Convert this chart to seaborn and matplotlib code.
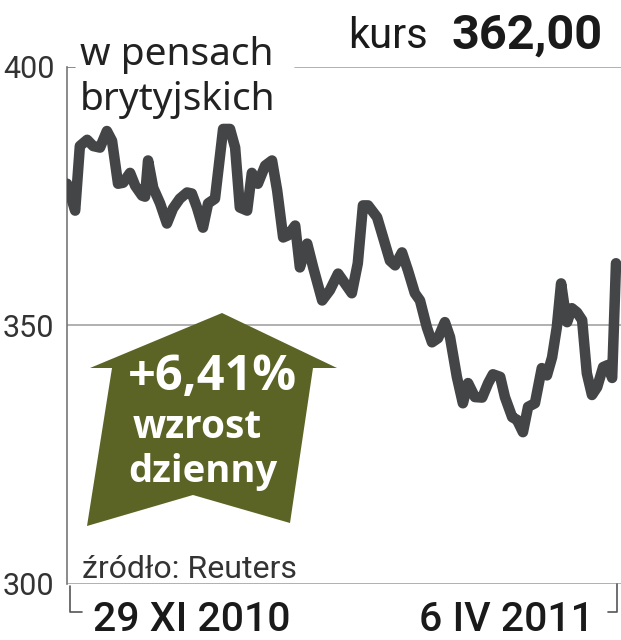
import numpy as np
import pandas as pd
import seaborn as sns
import matplotlib.pyplot as plt
from matplotlib.patches import Polygon
from matplotlib.lines import Line2D

# calendar days since 29 XI 2010 and closing price in pence
days = [0, 1.9, 3.0, 4.7, 6.1, 7.7, 9.3, 10.5, 11.9, 13.1, 14.7, 15.9, 17.5, 18.2,
        18.9, 20.1, 21.7, 23.3, 24.7, 26.3, 28.0, 29.1, 30.3, 31.7, 32.9, 34.5,
        36.4, 38.0, 39.2, 40.3, 42.0, 43.1, 44.5, 46.2, 47.8, 49.0, 50.4, 51.5,
        53.2, 54.3, 56.0, 57.4, 59.5, 61.3, 63.2, 64.8, 66.4, 67.8, 69.0, 70.2,
        72.3, 73.7, 75.3, 76.5, 78.1, 79.5, 81.1, 82.3, 83.9, 85.1, 86.5, 88.1,
        89.3, 90.9, 92.3, 93.5, 95.1, 96.8, 98.2, 99.3, 101.0, 102.1, 103.8,
        104.9, 106.3, 107.5, 109.1, 110.7, 111.9, 113.1, 114.2, 115.2, 116.1,
        116.6, 117.7, 118.9, 120.1, 121.2, 122.4, 123.6, 125.0, 126.1, 127.1, 128.0]
price = [377.4, 372.2, 384.7, 385.9, 384.7, 384.4, 387.6, 385.7, 377.4, 377.6,
         379.5, 377.0, 375.1, 374.9, 381.9, 376.6, 373.6, 369.7, 372.6, 374.5,
         375.7, 375.5, 372.8, 368.9, 373.6, 374.5, 388.0, 388.0, 384.4, 372.8,
         372.2, 379.5, 377.4, 380.9, 381.9, 376.1, 367.0, 367.4, 369.3, 361.2,
         365.8, 361.2, 354.8, 356.8, 360.0, 358.1, 356.2, 362.0, 373.2, 373.2,
         370.9, 367.0, 362.5, 361.6, 364.1, 360.6, 356.2, 354.8, 349.6, 346.7,
         347.5, 350.6, 347.7, 340.0, 334.9, 338.8, 336.1, 336.0, 338.8, 340.5,
         340.0, 336.1, 332.2, 331.7, 329.3, 334.2, 334.9, 341.7, 340.3, 343.8,
         349.6, 358.1, 352.9, 350.6, 353.3, 352.5, 351.0, 340.7, 336.5, 338.0,
         341.9, 342.3, 339.8, 362.0]
y_ticks = [300, 350, 400]
start_label = "29 XI 2010"
end_label = "6 IV 2011"
last_price = "362,00"
daily_change = "+6,41%"

df = pd.DataFrame({"day": days, "price": price})

sns.set_theme(style="white")
plt.rcParams["font.family"] = ["Roboto", "DejaVu Sans"]

W, H = 621, 640
fig = plt.figure(figsize=(W / 100, H / 100), dpi=100)

def px(x, y):
    return x / W, 1 - y / H

ax = fig.add_axes([67 / W, (H - 583.5) / H, 554 / W, 516.5 / H])
sns.lineplot(data=df, x="day", y="price", ax=ax, color="#434547", lw=7.6,
             solid_joinstyle="round", solid_capstyle="round", zorder=4)
ax.set_xlim(0, 128 * 554 / 549)
ax.set_ylim(300, 400)
ax.set_xlabel("")
ax.set_ylabel("")
ax.set_xticks([])
ax.set_yticks(y_ticks)
ax.set_yticklabels([str(t) for t in y_ticks])
ax.tick_params(axis="y", length=0, pad=9, labelsize=22, labelcolor="#333333")

grid = "#a3a3a3"
ax.axhline(350, color=grid, lw=1.2, zorder=1)
ax.axhline(300, color=grid, lw=1.2, zorder=1)
ax.axhline(400, xmin=228 / 554, xmax=1, color=grid, lw=1.2, zorder=1)
ax.axhline(400, xmin=0, xmax=8 / 554, color="#777777", lw=1.2, zorder=1)

for s in ["top", "right", "bottom"]:
    ax.spines[s].set_visible(False)
ax.spines["left"].set_color("#777777")
ax.spines["left"].set_linewidth(1.2)

# brackets under the axis
for xs, ys in [([70, 70, 82], [586, 612, 612]), ([617, 617, 608], [584, 612, 612])]:
    fx = [x / W for x in xs]
    fy = [1 - y / H for y in ys]
    fig.add_artist(Line2D(fx, fy, color="#555555", lw=1.2))

# headings
fig.text(*px(80, 65), "w pensach", fontsize=28, family=["Noto Sans", "DejaVu Sans"],
         color="#222222", va="baseline")
fig.text(*px(80, 110), "brytyjskich", fontsize=28, family=["Noto Sans", "DejaVu Sans"],
         color="#222222", va="baseline")
fig.text(*px(348, 48), "kurs", fontsize=30, color="#1a1a1a", va="baseline")
fig.text(*px(603, 49), last_price, fontsize=35, weight="bold", color="#1a1a1a",
         va="baseline", ha="right")
fig.text(*px(82, 578), "źródło: Reuters", fontsize=23, color="#333333", va="baseline")
fig.text(*px(93, 631), start_label, fontsize=29.5, weight=500, color="#1a1a1a",
         va="baseline")
fig.text(*px(594, 631), end_label, fontsize=29.5, weight=500, color="#1a1a1a",
         va="baseline", ha="right")

# arrow badge
arrow = [(222, 313), (337, 368), (313, 368), (290, 523), (193, 495),
         (87, 526), (112, 368), (90, 368)]
fig.add_artist(Polygon([px(x, y) for x, y in arrow], closed=True,
                       facecolor="#5c6425", edgecolor="none", zorder=5))
bf = ["Open Sans", "DejaVu Sans"]
fig.text(*px(212, 390), daily_change, fontsize=35, weight="bold", family=bf,
         color="white", ha="center", va="baseline", zorder=6)
fig.text(*px(197, 438), "wzrost", fontsize=28, weight="bold", family=bf,
         color="white", ha="center", va="baseline", zorder=6)
fig.text(*px(203, 482), "dzienny", fontsize=27.5, weight="bold", family=bf,
         color="white", ha="center", va="baseline", zorder=6)

fig.savefig("out.png", dpi=100)
